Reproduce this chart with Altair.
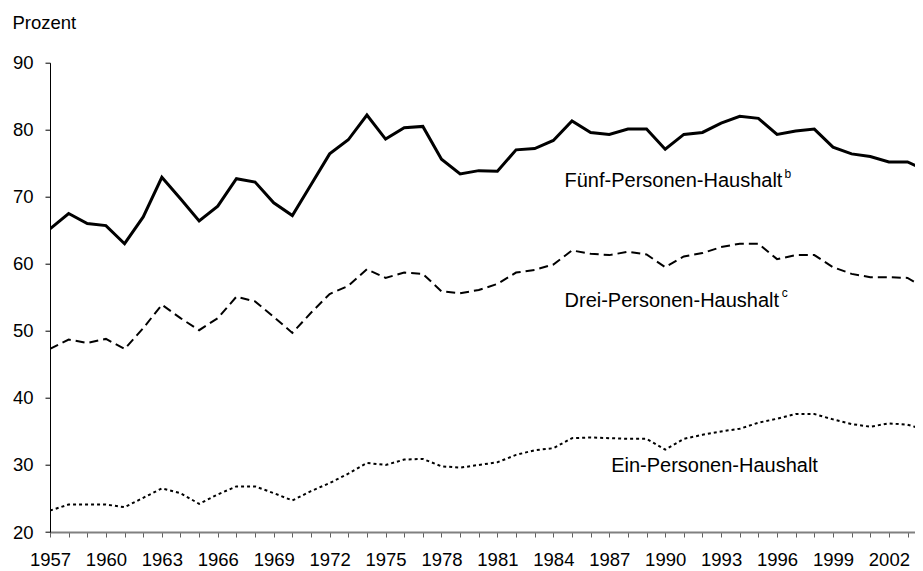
import altair as alt
import pandas as pd

years = list(range(1957, 2005))
five = [65.2, 67.5, 66.0, 65.7, 63.0, 67.0, 72.9, 69.7, 66.4, 68.6,
        72.7, 72.2, 69.1, 67.2, 71.8, 76.4, 78.5, 82.2, 78.6, 80.3,
        80.5, 75.6, 73.4, 73.9, 73.8, 77.0, 77.2, 78.4, 81.3, 79.6,
        79.3, 80.1, 80.1, 77.1, 79.3, 79.6, 81.0, 82.0, 81.7, 79.3,
        79.8, 80.1, 77.4, 76.4, 76.0, 75.2, 75.2, 73.9]
three = [47.3, 48.7, 48.2, 48.8, 47.3, 50.4, 53.9, 51.9, 50.1, 51.9,
         55.1, 54.4, 52.1, 49.7, 52.7, 55.5, 56.7, 59.2, 57.9, 58.7,
         58.5, 55.9, 55.6, 56.1, 57.0, 58.7, 59.1, 59.9, 62.0, 61.5,
         61.3, 61.8, 61.4, 59.5, 61.1, 61.6, 62.5, 63.0, 63.0, 60.7,
         61.3, 61.3, 59.5, 58.5, 58.0, 58.0, 57.9, 56.3]
one = [23.2, 24.1, 24.1, 24.1, 23.7, 25.1, 26.5, 25.8, 24.2, 25.6,
       26.8, 26.8, 25.8, 24.7, 26.1, 27.3, 28.7, 30.3, 30.0, 30.8,
       30.9, 29.8, 29.6, 30.0, 30.4, 31.5, 32.2, 32.5, 34.0, 34.1,
       34.0, 33.9, 33.9, 32.3, 33.9, 34.5, 35.0, 35.4, 36.3, 36.9,
       37.6, 37.6, 36.8, 36.1, 35.7, 36.2, 36.0, 35.2]

label_text = ["Fünf-Personen-Haushalt", "Drei-Personen-Haushalt", "Ein-Personen-Haushalt"]
label_year = [1984.6, 1984.6, 1987.1]
label_val = [71.5, 53.6, 28.9]
sup_text = ["b", "c"]
sup_year = [1996.4, 1996.25]
sup_val = [72.8, 55.1]

y_ticks = [20, 30, 40, 50, 60, 70, 80, 90]
x_ticks = list(range(1957, 2004))

FONT = "Liberation Sans"
df = pd.DataFrame({"Jahr": years, "five": five, "three": three, "one": one})
lab = pd.DataFrame({"x": label_year, "y": label_val, "t": label_text})
sup = pd.DataFrame({"x": sup_year, "y": sup_val, "t": sup_text})

xscale = alt.Scale(domain=[1957, 2003.4], nice=False, zero=False)
yscale = alt.Scale(domain=[20, 90], nice=False, zero=False)

xaxis = alt.Axis(values=x_ticks, tickCount=200, format="d",
                 labelExpr="(datum.value - 1957) % 3 == 0 ? datum.label : ''",
                 labelFont=FONT, labelFontSize=18.5, labelColor="black",
                 labelPadding=13, labelBaseline="top", labelFlush=False,
                 labelOverlap=False, labelBound=False,
                 tickSize=5, tickColor="#606060", tickWidth=1,
                 domainColor="#808080", domainWidth=2, grid=False, title=None)
yaxis = alt.Axis(values=y_ticks, tickCount=20, labelFont=FONT, labelFontSize=18.5,
                 labelColor="black", labelPadding=12, tickSize=5,
                 tickColor="black", domainColor="black", domainWidth=1,
                 grid=False, title="Prozent", titleAngle=0, titleX=-38,
                 titleY=-34, titleAlign="left", titleBaseline="alphabetic",
                 titleFont=FONT, titleFontSize=18.5, titleFontWeight="normal",
                 titleColor="black", labelFlush=False)

base = alt.Chart(df)
l5 = base.mark_line(color="black", strokeWidth=3, clip=True).encode(
    x=alt.X("Jahr:Q", scale=xscale, axis=xaxis),
    y=alt.Y("five:Q", scale=yscale, axis=yaxis))
l3 = base.mark_line(color="black", strokeWidth=2, strokeDash=[9, 5], clip=True).encode(
    x=alt.X("Jahr:Q", scale=xscale), y=alt.Y("three:Q", scale=yscale))
l1 = base.mark_line(color="black", strokeWidth=2, strokeDash=[3, 3], clip=True).encode(
    x=alt.X("Jahr:Q", scale=xscale), y=alt.Y("one:Q", scale=yscale))

texts = alt.Chart(lab).mark_text(align="left", baseline="alphabetic", font=FONT,
                                 fontSize=20, color="black").encode(
    x=alt.X("x:Q", scale=xscale), y=alt.Y("y:Q", scale=yscale), text="t:N")
sups = alt.Chart(sup).mark_text(align="left", baseline="alphabetic", font=FONT,
                                fontSize=12, color="black").encode(
    x=alt.X("x:Q", scale=xscale), y=alt.Y("y:Q", scale=yscale), text="t:N")

chart = alt.layer(l5, l3, l1, texts, sups).properties(
    width=865, height=469.3,
    autosize=alt.AutoSizeParams(type="none"),
    padding={"left": 42, "top": 54.7, "right": 0, "bottom": 38},
    background="white",
).configure_view(stroke=None)

chart.save("out.html", embed_options={"renderer": "svg", "actions": False})
